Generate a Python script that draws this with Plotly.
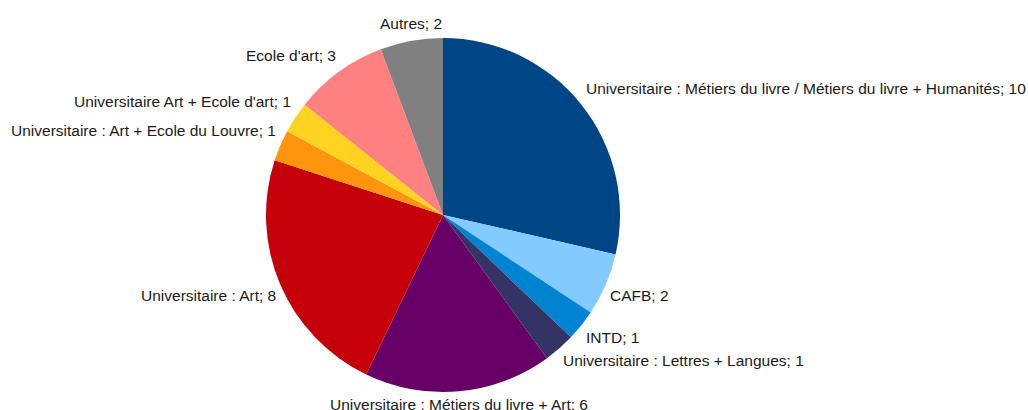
import math
import plotly.graph_objects as go

labels = [
    "Universitaire : Métiers du livre / Métiers du livre + Humanités",
    "CAFB",
    "INTD",
    "Universitaire : Lettres + Langues",
    "Universitaire : Métiers du livre + Art",
    "Universitaire : Art",
    "Universitaire : Art + Ecole du Louvre",
    "Universitaire Art + Ecole d'art",
    "Ecole d'art",
    "Autres",
]
values = [10, 2, 1, 1, 6, 8, 1, 1, 3, 2]
colors = ["#004586", "#83caff", "#0084d1", "#333366", "#660066",
          "#c5000b", "#ff950e", "#ffd320", "#ff8080", "#808080"]

W, H = 1028, 410
cx, cy, r = 443, 215, 177
FONT = "Liberation Sans, Arial, sans-serif"

fig = go.Figure(go.Pie(
    labels=labels,
    values=values,
    sort=False,
    direction="clockwise",
    rotation=0,
    marker=dict(colors=colors, line=dict(width=0)),
    textinfo="none",
    showlegend=False,
    hoverinfo="label+value",
    domain=dict(x=[(cx - r) / W, (cx + r) / W], y=[(H - cy - r) / H, (H - cy + r) / H]),
))

# Outside labels, LibreOffice style: anchored at the slice mid-angle just beyond the rim
total = sum(values)
cum = 0
annotations = []
for lab, v in zip(labels, values):
    mid = (cum + v / 2) / total * 2 * math.pi
    cum += v
    s, c = math.sin(mid), math.cos(mid)
    rr = r + 4
    px = cx + rr * s
    py = cy - rr * c
    if s > 0.2:
        xa = "left"
    elif s < -0.2:
        xa = "right"
    else:
        xa = "center"
    ya = "bottom" if c > 0 else "top"
    annotations.append(dict(
        x=px / W, y=(H - py) / H, xref="paper", yref="paper",
        text=f"{lab}; {v}", showarrow=False,
        xanchor=xa, yanchor=ya,
        yshift=4 if c > 0 else 0,
        font=dict(family=FONT, size=15.5, color="#1a1a1a"),
        borderpad=0,
    ))

fig.update_layout(
    width=W, height=H,
    margin=dict(l=0, r=0, t=0, b=0),
    paper_bgcolor="white",
    plot_bgcolor="white",
    annotations=annotations,
)

fig.write_html(
    "out.html",
    config={"responsive": False, "displayModeBar": False},
    post_script=(
        "document.body.style.margin='0';"
        "document.body.style.overflow='hidden';"
        "document.documentElement.style.overflow='hidden';"
    ),
)
